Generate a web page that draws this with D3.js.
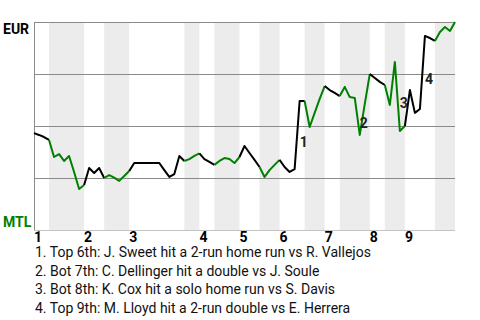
<!DOCTYPE html>
<html>
<head>
<meta charset="utf-8">
<script src="https://cdn.jsdelivr.net/npm/d3@7"></script>
<style>
  body { margin: 0; background: #fff; }
  text { font-family: Roboto, "Noto Sans", sans-serif; }
</style>
</head>
<body>
<svg id="chart" width="480" height="320"></svg>
<script>
// EUR win probability (%) after each plate appearance
var winProb = [46.6, 45.7, 44.7, 43.3, 35.1, 36.5, 33.2, 35.6, 27.9, 19.7,
    21.6, 29.8, 27.4, 29.8, 25.0, 26.4, 25.2, 23.6, 26.0, 28.4,
    32.2, 32.2, 32.2, 32.2, 32.2, 32.2, 28.8, 25.5, 26.9, 35.6,
    33.2, 34.1, 35.6, 36.8, 34.1, 32.7, 31.3, 33.2, 34.6, 34.1,
    32.2, 35.1, 40.4, 37.0, 33.7, 30.3, 25.5, 28.8, 31.3, 33.7,
    30.3, 27.9, 29.3, 62.0, 62.0, 49.5, 56.3, 63.0, 69.2, 67.3,
    65.9, 64.4, 68.8, 63.9, 63.5, 45.7, 60.6, 75.0, 73.1, 71.2,
    69.7, 60.1, 80.8, 47.6, 50.0, 67.3, 56.3, 58.2, 93.3, 92.3,
    90.9, 95.2, 97.6, 95.7, 100];

// index where each inning's top half and bottom half start
var topStarts = [0, 10, 19, 33, 41, 49, 58, 67, 74];
var botStarts = [3, 14, 30, 36, 45, 54, 61, 70, 80];
var inningLabels = ["1", "2", "3", "4", "5", "6", "7", "8", "9"];

var gridValues = [25, 50, 75, 100];

var keyPlays = [53, 65, 73, 78];
var notes = [
    "1. Top 6th: J. Sweet hit a 2-run home run vs R. Vallejos",
    "2. Bot 7th: C. Dellinger hit a double vs J. Soule",
    "3. Bot 8th: K. Cox hit a solo home run vs S. Davis",
    "4. Top 9th: M. Lloyd hit a 2-run double vs E. Herrera"
];

var svg = d3.select("#chart");
var last = winProb.length - 1;

var x = d3.scaleLinear().domain([0, last]).range([34, 455]);
var y = d3.scaleLinear().domain([0, 100]).range([230, 22]);

// half innings
var halves = [];
for (var k = 0; k < topStarts.length; k++) {
    var nextTop = k + 1 < topStarts.length ? topStarts[k + 1] : last;
    halves.push({from: topStarts[k], to: botStarts[k], bottom: false});
    halves.push({from: botStarts[k], to: nextTop, bottom: true});
}

// shaded bottom halves
svg.append("g").selectAll("rect")
    .data(halves.filter(function(h) { return h.bottom; }))
    .enter().append("rect")
    .attr("x", function(d) { return x(d.from); })
    .attr("width", function(d) { return x(d.to) - x(d.from); })
    .attr("y", y(100))
    .attr("height", y(0) - y(100))
    .attr("fill", "#ececec");

// grid
svg.append("g").selectAll("line")
    .data(gridValues)
    .enter().append("line")
    .attr("x1", x(0)).attr("x2", x(last))
    .attr("y1", function(d) { return y(d) + 0.5; })
    .attr("y2", function(d) { return y(d) + 0.5; })
    .attr("stroke", "#8a8a8a");

svg.append("line")
    .attr("x1", x(0)).attr("x2", x(last))
    .attr("y1", y(0) + 0.5).attr("y2", y(0) + 0.5)
    .attr("stroke", "#c4c4c4");

svg.append("line")
    .attr("x1", x(0) + 0.5).attr("x2", x(0) + 0.5)
    .attr("y1", y(100)).attr("y2", y(0))
    .attr("stroke", "#8a8a8a");

// win probability line, coloured by who is batting
var line = d3.line()
    .x(function(d) { return x(d); })
    .y(function(d) { return y(winProb[d]); });

svg.append("g").selectAll("path")
    .data(halves)
    .enter().append("path")
    .attr("d", function(h) { return line(d3.range(h.from, h.to + 1)); })
    .attr("fill", "none")
    .attr("stroke", function(h) { return h.bottom ? "#008000" : "#000"; })
    .attr("stroke-width", 2)
    .attr("stroke-linejoin", "round");

// key play markers
svg.append("g").selectAll("text")
    .data(keyPlays)
    .enter().append("text")
    .attr("x", function(d) { return x(d); })
    .attr("y", function(d) { return (y(winProb[d]) + y(winProb[d - 1])) / 2 + 12; })
    .attr("font-size", "14px")
    .attr("font-weight", "bold")
    .attr("fill", "#222")
    .text(function(d, i) { return i + 1; });

// team labels
svg.append("text")
    .attr("x", 3).attr("y", 34)
    .attr("font-size", "14px").attr("font-weight", "bold")
    .attr("fill", "#000")
    .text("EUR");

svg.append("text")
    .attr("x", 3).attr("y", 227)
    .attr("font-size", "14px").attr("font-weight", "bold")
    .attr("fill", "#008000")
    .text("MTL");

// inning labels
svg.append("g").selectAll("text")
    .data(topStarts)
    .enter().append("text")
    .attr("x", function(d) { return x(d); })
    .attr("y", 242)
    .attr("font-size", "14px")
    .attr("font-weight", "bold")
    .attr("fill", "#000")
    .text(function(d, i) { return inningLabels[i]; });

// notes
svg.append("g").selectAll("text")
    .data(notes)
    .enter().append("text")
    .attr("x", 35)
    .attr("y", function(d, i) { return 257 + i * 18.6; })
    .attr("font-size", "14px")
    .attr("fill", "#111")
    .text(function(d) { return d; });
</script>
</body>
</html>
